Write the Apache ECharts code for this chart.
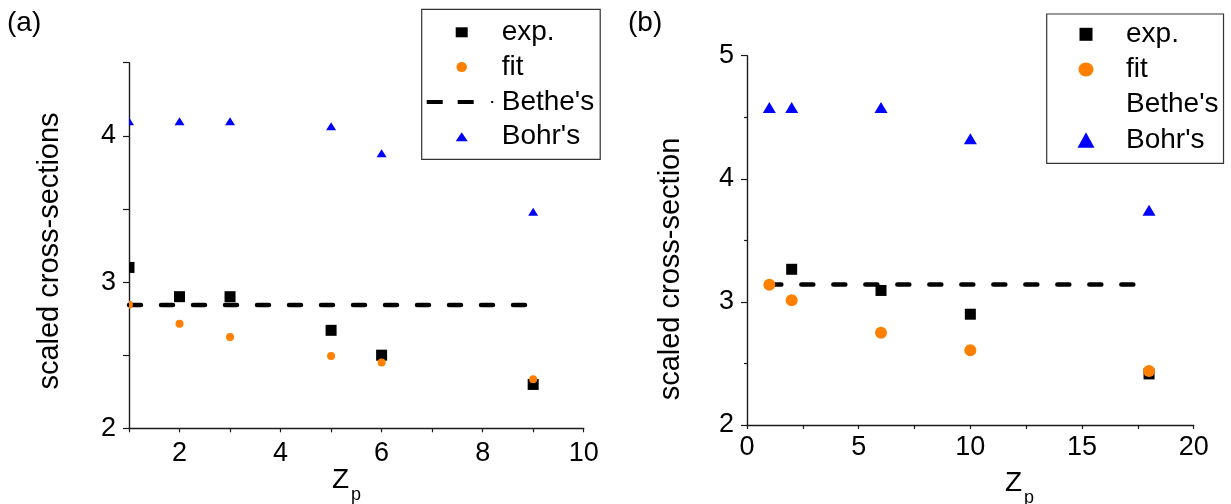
<!DOCTYPE html>
<html><head><meta charset="utf-8">
<script src="https://cdn.jsdelivr.net/npm/echarts@6/dist/echarts.min.js"></script>
<style>html,body{margin:0;padding:0;background:#fff}#c{width:1231px;height:504px}</style>
</head><body><div id="c"></div>
<script>
const FONT = '"Liberation Sans", Arial, Helvetica, sans-serif';

// ---------- Panel (a) data ----------
const zA     = [1, 2, 3, 5, 6, 9];
const expA   = [3.10, 2.90, 2.90, 2.67, 2.50, 2.30];
const fitA   = [2.845, 2.715, 2.625, 2.495, 2.45, 2.335];
const bohrA  = [4.10, 4.10, 4.10, 4.065, 3.88, 3.48];
const betheA = 2.843;
const betheAZ = [1, 9];
const xLabelsA = [2, 4, 6, 8, 10];
const yLabelsA = [2, 3, 4];

// ---------- Panel (b) data ----------
const zExpB  = [2, 6, 10, 18];
const expB   = [3.265, 3.093, 2.90, 2.415];
const zB     = [1, 2, 6, 10, 18];
const fitB   = [3.14, 3.013, 2.75, 2.607, 2.438];
const bohrB  = [4.58, 4.58, 4.58, 4.325, 3.745];
const betheB = 3.142;
const betheBZ = [1, 18];
const xLabelsB = [0, 5, 10, 15, 20];
const yLabelsB = [2, 3, 4, 5];

const legendNames = ['exp.', 'fit', "Bethe's", "Bohr's"];

const BLACK = '#000000', ORANGE = '#ff8000', BLUE = '#0000ff';

function pts(xs, ys) { return xs.map((x, i) => [x, ys[i]]); }
// markers sitting on the left axis are clipped to their right half, as in the reference
function halfAtMin(data, xmin, half) {
  return data.map(p => p[0] === xmin ? { value: p, symbol: half.symbol, symbolSize: half.size, symbolOffset: half.offset } : p);
}
const HALF_RECT = { symbol: 'rect', size: [5.5, 11], offset: [2.75, 0] };
const HALF_CIRC = { symbol: 'path://M0,0A5,5 0 0,1 0,10Z', size: [4, 8], offset: [2, 0] };
const HALF_TRI  = { symbol: 'path://M0,0L5,8L0,8Z', size: [5, 8], offset: [2.5, 0] };

// legend icons (drawn inside a 70x16 icon box)
const IW = 70, IH = 16;
const box = `M0,0M${IW},${IH}`;
function iconRect(w, h) { return `path://${box}M${(IW - w) / 2},${(IH - h) / 2}h${w}v${h}h${-w}Z`; }
function iconCirc(w, h) { const rx = w / 2, ry = h / 2, cx = IW / 2, cy = IH / 2;
  return `path://${box}M${cx - rx},${cy}a${rx},${ry} 0 1,0 ${w},0a${rx},${ry} 0 1,0 ${-w},0Z`; }
function iconTri(w, h) { const cx = IW / 2, cy = IH / 2;
  return `path://${box}M${cx},${cy - h / 2}L${cx + w / 2},${cy + h / 2}L${cx - w / 2},${cy + h / 2}Z`; }
const iconDash = `path://${box}M0,6h16v4h-16ZM31,6h16v4h-16ZM64.5,7h2v2h-2Z`;
const iconNone = `path://${box}`;

function onlyLabels(list) { return v => list.some(t => Math.abs(t - v) < 1e-9) ? String(v) : ''; }

const axisLineStyle = { lineStyle: { color: '#1a1a1a', width: 1.4 } };
const labelStyle = { color: '#000', fontSize: 27, fontFamily: FONT };

function xAxisDef(gi, min, max, interval, labels, margin) {
  return { gridIndex: gi, type: 'value', min, max, interval,
    axisLine: axisLineStyle, splitLine: { show: false },
    axisTick: { show: true, inside: false, length: 4, lineStyle: { color: '#1a1a1a', width: 1.2 } },
    axisLabel: Object.assign({ margin, formatter: onlyLabels(labels), showMinLabel: true, showMaxLabel: true }, labelStyle) };
}
function yAxisDef(gi, min, max, interval, labels, minor) {
  const ax = { gridIndex: gi, type: 'value', min, max, interval,
    axisLine: axisLineStyle, splitLine: { show: false },
    axisTick: { show: true, inside: false, length: 6, lineStyle: { color: '#1a1a1a', width: 1.2 } },
    axisLabel: Object.assign({ margin: 13, formatter: onlyLabels(labels), showMinLabel: true, showMaxLabel: true }, labelStyle) };
  if (minor) ax.minorTick = { show: true, splitNumber: 2, length: 3, lineStyle: { color: '#1a1a1a', width: 1.2 } };
  return ax;
}

function legendDef(left, top, pad, gap, icons, prefix) {
  return { orient: 'vertical', left, top, padding: pad, itemGap: gap,
    itemWidth: IW, itemHeight: IH, borderColor: '#333', borderWidth: 1.2,
    selectedMode: false, backgroundColor: '#fff',
    itemStyle: { borderWidth: 0, opacity: 1 },
    textStyle: { color: '#000', fontSize: 28, fontFamily: FONT },
    formatter: n => n.slice(prefix.length),
    data: legendNames.map((n, i) => ({ name: prefix + n, icon: icons[i] })) };
}

const dashStyle = { color: BLACK, width: 4.5, type: [12, 20], cap: 'round' };
const mk = c => ({ color: c, opacity: 1 });

const option = {
  animation: false,
  backgroundColor: '#ffffff',
  grid: [
    { left: 129, top: 62.7, width: 454.7, height: 365.6 },
    { left: 747, top: 55.7, width: 446.7, height: 369.3 }
  ],
  xAxis: [ xAxisDef(0, 1, 10, 1, xLabelsA, 12), xAxisDef(1, 0, 20, 2.5, xLabelsB, 9) ],
  yAxis: [ yAxisDef(0, 2, 4.5, 0.5, yLabelsA, false), yAxisDef(1, 2, 5, 1, yLabelsB, true) ],
  legend: [
    legendDef(421.7, 9.3, [9, 6, 8.6, 5], 6.8,
      [iconRect(12, 10), iconCirc(10.5, 10), iconDash, iconTri(12, 9)], 'a:'),
    legendDef(1046.7, 14, [6.3, 5, 9.4, 4.3], 7.2,
      [iconRect(13, 13), iconCirc(15, 14), iconNone, iconTri(17, 15.5)], 'b:')
  ],
  series: [
    // panel (a)
    { name: "a:Bethe's", type: 'line', xAxisIndex: 0, yAxisIndex: 0, showSymbol: false, silent: true,
      itemStyle: mk(BLACK), lineStyle: dashStyle, data: betheAZ.map(z => [z, betheA]), z: 1 },
    { name: 'a:exp.', type: 'scatter', xAxisIndex: 0, yAxisIndex: 0, symbol: 'rect', symbolSize: 11,
      itemStyle: mk(BLACK), data: halfAtMin(pts(zA, expA), 1, HALF_RECT), z: 2 },
    { name: 'a:fit', type: 'scatter', xAxisIndex: 0, yAxisIndex: 0, symbol: 'circle', symbolSize: 8,
      itemStyle: mk(ORANGE), data: halfAtMin(pts(zA, fitA), 1, HALF_CIRC), z: 3 },
    { name: "a:Bohr's", type: 'scatter', xAxisIndex: 0, yAxisIndex: 0, symbol: 'triangle', symbolSize: [10, 8],
      itemStyle: mk(BLUE), data: halfAtMin(pts(zA, bohrA), 1, HALF_TRI), z: 4 },
    // panel (b)
    { name: "b:Bethe's", type: 'line', xAxisIndex: 1, yAxisIndex: 1, showSymbol: false, silent: true,
      itemStyle: mk(BLACK), lineStyle: dashStyle, data: betheBZ.map(z => [z, betheB]), z: 1 },
    { name: 'b:exp.', type: 'scatter', xAxisIndex: 1, yAxisIndex: 1, symbol: 'rect', symbolSize: 11,
      itemStyle: mk(BLACK), data: pts(zExpB, expB), z: 2 },
    { name: 'b:fit', type: 'scatter', xAxisIndex: 1, yAxisIndex: 1, symbol: 'circle', symbolSize: 12,
      itemStyle: mk(ORANGE), data: pts(zB, fitB), z: 3 },
    { name: "b:Bohr's", type: 'scatter', xAxisIndex: 1, yAxisIndex: 1, symbol: 'triangle', symbolSize: [13, 11],
      itemStyle: mk(BLUE), data: pts(zB, bohrB), z: 4 }
  ],
  graphic: [
    { type: 'text', x: 7, y: 23, style: { text: '(a)', fontSize: 28, fontFamily: FONT, fill: '#000', align: 'left', verticalAlign: 'middle' } },
    { type: 'text', x: 628, y: 23, style: { text: '(b)', fontSize: 28, fontFamily: FONT, fill: '#000', align: 'left', verticalAlign: 'middle' } },
    { type: 'text', x: 50, y: 251, rotation: Math.PI / 2,
      style: { text: 'scaled cross-sections', fontSize: 29, fontFamily: FONT, fill: '#000', align: 'center', verticalAlign: 'middle' } },
    { type: 'text', x: 671, y: 269, rotation: Math.PI / 2,
      style: { text: 'scaled cross-section', fontSize: 29, fontFamily: FONT, fill: '#000', align: 'center', verticalAlign: 'middle' } },
    { type: 'text', x: 332, y: 480, style: { text: 'Z', fontSize: 28, fontFamily: FONT, fill: '#000', align: 'left', verticalAlign: 'middle' } },
    { type: 'text', x: 351, y: 495, style: { text: 'p', fontSize: 18, fontFamily: FONT, fill: '#000', align: 'left', verticalAlign: 'middle' } },
    { type: 'text', x: 1005, y: 483, style: { text: 'Z', fontSize: 28, fontFamily: FONT, fill: '#000', align: 'left', verticalAlign: 'middle' } },
    { type: 'text', x: 1024, y: 498, style: { text: 'p', fontSize: 18, fontFamily: FONT, fill: '#000', align: 'left', verticalAlign: 'middle' } }
  ]
};

const chart = echarts.init(document.getElementById('c'), null, { renderer: 'canvas' });
chart.setOption(option);
</script>
</body></html>
